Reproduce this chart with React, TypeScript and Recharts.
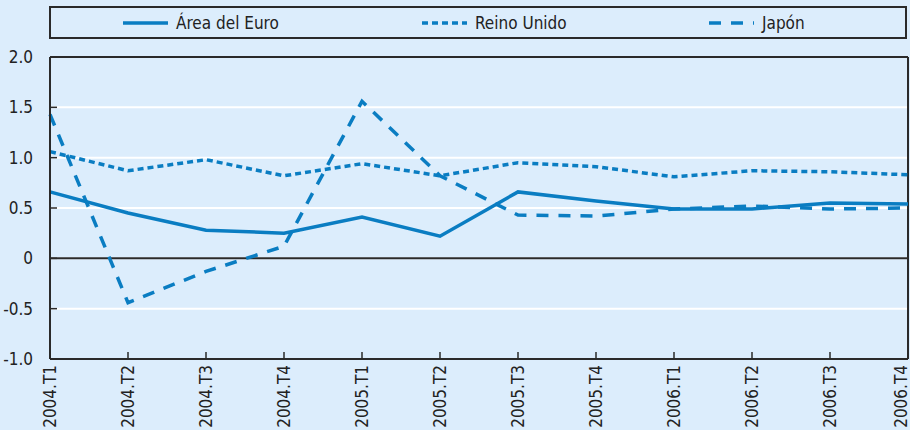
import { LineChart, Line, XAxis, YAxis, CartesianGrid, ReferenceLine, Legend } from 'recharts'

const categories = ['2004.T1', '2004.T2', '2004.T3', '2004.T4', '2005.T1', '2005.T2', '2005.T3', '2005.T4', '2006.T1', '2006.T2', '2006.T3', '2006.T4']
const euroArea = [0.66, 0.45, 0.28, 0.25, 0.41, 0.22, 0.66, 0.57, 0.49, 0.49, 0.55, 0.54]
const unitedKingdom = [1.06, 0.87, 0.98, 0.82, 0.94, 0.82, 0.95, 0.91, 0.81, 0.87, 0.86, 0.83]
const japan = [1.43, -0.44, -0.13, 0.12, 1.56, 0.82, 0.43, 0.42, 0.49, 0.52, 0.49, 0.5]
const yTicks = [-1, -0.5, 0, 0.5, 1, 1.5, 2]

const seriesNames = ['Área del Euro', 'Reino Unido', 'Japón']

const data = categories.map((c, i) => ({
  name: c,
  euro: euroArea[i],
  uk: unitedKingdom[i],
  jp: japan[i],
}))

const BLUE = '#0a7dc2'
const DARK = '#2a2a2a'
const BG = '#dcedfc'
const FONT = "'Liberation Sans Narrow', 'DejaVu Sans Condensed', 'Arial Narrow', sans-serif"

const series = [
  { key: 'euro', name: seriesNames[0], dash: undefined as string | undefined, left: 72 },
  { key: 'uk', name: seriesNames[1], dash: '6 4', left: 371 },
  { key: 'jp', name: seriesNames[2], dash: '12 10', left: 658 },
]

function fmtY(v: number) {
  if (v === 0) return '0'
  return v.toFixed(1)
}

function YTick({ x, y, payload }: any) {
  return (
    <g>
      <line x1={x} x2={x + 7} y1={y} y2={y} stroke={DARK} strokeWidth={1.5} />
      <text x={x - 17} y={y} dy="0.36em" textAnchor="end" fill="#222" fontSize={17} fontFamily={FONT}>
        {fmtY(payload.value)}
      </text>
    </g>
  )
}

function XTick({ x, y, payload }: any) {
  // keep the last label inside the picture
  const tx = x > 900 ? 901 : x
  return (
    <g>
      <line x1={x} x2={x} y1={y} y2={y - 7} stroke={DARK} strokeWidth={1.5} />
      <text
        x={0}
        y={0}
        dy="0.36em"
        textAnchor="end"
        fill="#222"
        fontSize={17}
        fontFamily={FONT}
        transform={`translate(${tx},${y + 6}) rotate(-90)`}
      >
        {payload.value}
      </text>
    </g>
  )
}

function LegendBox() {
  return (
    <div
      style={{
        position: 'relative',
        width: 858,
        height: 33,
        boxSizing: 'border-box',
        border: `2px solid ${DARK}`,
        fontFamily: FONT,
        fontSize: 17,
        color: '#222',
      }}
    >
      {series.map(s => (
        <div
          key={s.key}
          style={{ position: 'absolute', left: s.left, top: 0, height: 29, display: 'flex', alignItems: 'center' }}
        >
          <svg width={45} height={6} style={{ display: 'block' }}>
            <line x1={0} x2={45} y1={3} y2={3} stroke={BLUE} strokeWidth={3.5} strokeDasharray={s.dash} />
          </svg>
          <span style={{ marginLeft: 8, whiteSpace: 'nowrap' }}>{s.name}</span>
        </div>
      ))}
    </div>
  )
}

export default function App() {
  return (
    <div style={{ width: 910, height: 430, background: BG }}>
      <style>{'body{margin:0}'}</style>
      <LineChart width={910} height={430} data={data} margin={{ top: 57, right: 2, left: 0, bottom: 0 }}>
        <CartesianGrid vertical={false} stroke="#ffffff" strokeWidth={2} />
        <XAxis
          dataKey="name"
          interval={0}
          height={71}
          tickSize={0}
          tickMargin={0}
          tickLine={false}
          axisLine={{ stroke: DARK, strokeWidth: 2 }}
          tick={<XTick />}
        />
        <YAxis
          domain={[-1, 2]}
          ticks={yTicks}
          width={50}
          tickSize={0}
          tickMargin={0}
          tickLine={false}
          axisLine={{ stroke: DARK, strokeWidth: 2 }}
          tick={<YTick />}
        />
        <ReferenceLine y={0} stroke={DARK} strokeWidth={2} />
        <ReferenceLine y={2} stroke={DARK} strokeWidth={2} />
        <ReferenceLine x={categories[categories.length - 1]} stroke={DARK} strokeWidth={2} />
        <Legend
          layout="vertical"
          verticalAlign="middle"
          align="center"
          content={<LegendBox />}
          wrapperStyle={{ top: 6, left: 49, width: 858, height: 33 }}
        />
        {series.map(s => (
          <Line
            key={s.key}
            type="linear"
            dataKey={s.key}
            name={s.name}
            stroke={BLUE}
            strokeWidth={3.5}
            strokeDasharray={s.dash}
            dot={false}
            activeDot={false}
            isAnimationActive={false}
          />
        ))}
      </LineChart>
    </div>
  )
}
